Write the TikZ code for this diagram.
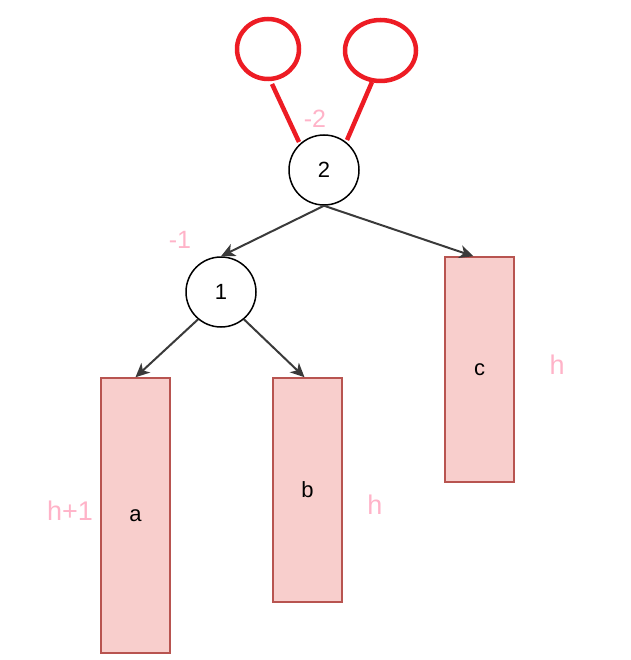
\documentclass[tikz,border=0pt]{standalone}
\usepackage{fontspec}
\setmainfont{Liberation Sans}
\usetikzlibrary{arrows.meta,shapes.geometric}
\definecolor{rectfill}{HTML}{F8CECC}
\definecolor{rectline}{HTML}{B85450}
\definecolor{redmark}{HTML}{ED1C24}
\definecolor{pinklab}{HTML}{FFB3C8}
\definecolor{edgecol}{HTML}{3A3A3A}
\tikzset{
  treenode/.style={circle, draw=black, line width=1.5pt, minimum size=70pt, inner sep=0pt, font=\fontsize{22}{24}\selectfont},
  subtree/.style={rectangle, draw=rectline, fill=rectfill, line width=1.5pt, minimum width=69pt, inner sep=0pt, font=\fontsize{22}{24}\selectfont},
  redring/.style={ellipse, draw=redmark, line width=4.5pt, inner sep=0pt},
  redline/.style={draw=redmark, line width=4.5pt},
  edge/.style={draw=edgecol, line width=2pt, -{Stealth[length=14pt, width=13pt, inset=4pt]}},
  hlab/.style={text=pinklab, inner sep=0pt, font=\fontsize{27}{28}\selectfont},
  ballab/.style={text=pinklab, inner sep=0pt, font=\fontsize{25}{26}\selectfont}
}
\begin{document}
\begin{tikzpicture}[x=1pt, y=-1pt]
\useasboundingbox (0,0) rectangle (630,660);
% tree nodes
\node[treenode] (n2) at (324,170) {2};
\node[treenode] (n1) at (221,292) {1};
\node[subtree, minimum height=275pt] (a) at (135.5,515.5) {a};
\node[subtree, minimum height=224pt] (b) at (307.5,490) {b};
\node[subtree, minimum height=225pt] (c) at (479.5,369.5) {c};
% edges
\draw[edge] (n2.south) -- (n1.north);
\draw[edge] (n2.south) -- ([xshift=-6pt]c.north);
\draw[edge] (n1.-130) -- (a.north);
\draw[edge] (n1.-50) -- ([xshift=-3pt]b.north);
% red marks
\node[redring, minimum width=62pt, minimum height=60pt] (r1) at (268,49) {};
\node[redring, minimum width=71pt, minimum height=61pt] (r2) at (380.5,50.5) {};
\coordinate (l1s) at (272,84);
\coordinate (l1e) at (299,142);
\coordinate (l2s) at (372,82);
\coordinate (l2e) at (347,140);
\draw[redline] (l1s) -- (l1e);
\draw[redline] (l2s) -- (l2e);
% labels
\node[ballab] (bf2) at (315,119) {-2};
\node[ballab] (bf1) at (180,240) {-1};
\node[hlab] (ha) at (70,511) {h+1};
\node[hlab] (hb) at (375,505) {h};
\node[hlab] (hc) at (557,365) {h};
\end{tikzpicture}
\end{document}
